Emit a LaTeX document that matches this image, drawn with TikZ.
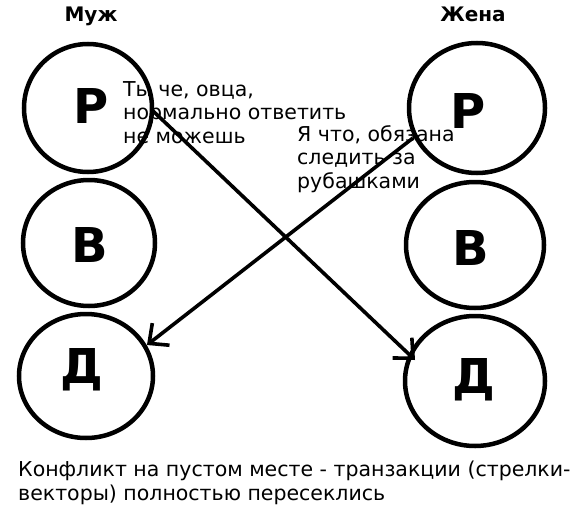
\documentclass[tikz,border=0pt]{standalone}
\usepackage{fontspec}
\setmainfont{DejaVu Sans}
\usetikzlibrary{shapes.geometric,arrows.meta}
\begin{document}
\begin{tikzpicture}[x=1pt,y=-1pt,
  ring/.style={draw=black,line width=4.5pt,ellipse,inner sep=0pt},
  letter/.style={anchor=base,inner sep=0pt,font=\fontsize{48}{48}\selectfont\bfseries},
  title/.style={anchor=base,inner sep=0pt,font=\fontsize{20}{20}\selectfont\bfseries},
  speech/.style={anchor=base west,inner sep=0pt,align=left,font=\fontsize{20.5}{23.5}\selectfont},
  vec/.style={line width=3.6pt,-{Straight Barb[length=15pt,width=28pt]}}]
\useasboundingbox[fill=white] (0,0) rectangle (570,511);
% circles
\node[ring,minimum width=128pt,minimum height=128pt] (L1) at (88,108) {};
\node[ring,minimum width=132pt,minimum height=126pt] (L2) at (89,243) {};
\node[ring,minimum width=134pt,minimum height=124pt] (L3) at (86,376) {};
\node[ring,minimum width=136pt,minimum height=130pt] (R1) at (477,108) {};
\node[ring,minimum width=138pt,minimum height=126pt] (R2) at (475,245) {};
\node[ring,minimum width=140pt,minimum height=130pt] (R3) at (475,381) {};
% letters
\node[letter] (lp) at (91,123) {Р};
\node[letter] (lv) at (90,262) {В};
\node[letter] (ld) at (82,383) {Д};
\node[letter] (rp) at (468,128) {Р};
\node[letter] (rv) at (471,265) {В};
\node[letter] (rd) at (474,393) {Д};
% titles
\node[title] (muzh) at (91,22) {Муж};
\node[title] (zhena) at (473,22) {Жена};
% arrows
\coordinate (a1s) at (152,110);
\coordinate (a1e) at (415,360);
\coordinate (a2s) at (413,138);
\coordinate (a2e) at (147,345);
\draw[vec] (a1s) -- (a1e);
\draw[vec] (a2s) -- (a2e);
% speech
\node[speech] (husb) at (123,143) {Ты че, овца,\\нормально ответить\\не можешь};
\node[speech] (wife) at (297,188) {Я что, обязана\\следить за\\рубашками};
\node[speech] (note) at (18,500) {Конфликт на пустом месте - транзакции (стрелки-\\векторы) полностью пересеклись};
\end{tikzpicture}
\end{document}
